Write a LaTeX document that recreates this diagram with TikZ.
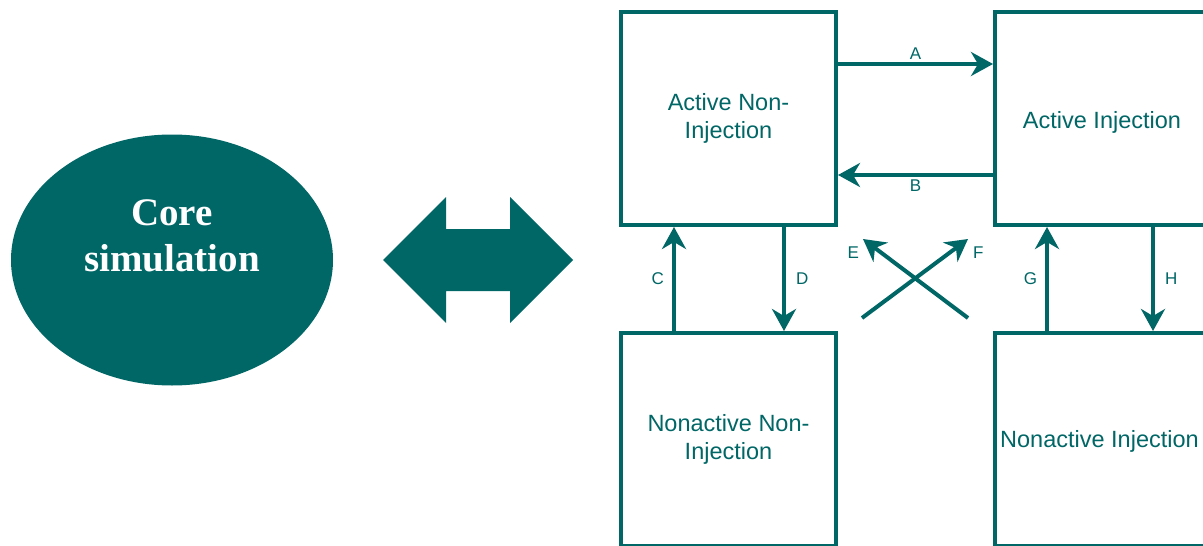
\documentclass[tikz,border=0pt]{standalone}
\usepackage{fontspec}
\setmainfont{Liberation Sans}
\newfontfamily\coreserif{Liberation Serif}
\usetikzlibrary{arrows.meta,shapes.geometric}
\definecolor{teal}{RGB}{0,102,102}
\tikzset{
  statebox/.style={draw=teal, line width=4pt, minimum width=215pt, minimum height=213pt,
    inner sep=0pt, align=center, text=teal, font=\fontsize{23.5}{28}\selectfont},
  flow/.style={draw=teal, line width=4pt, -{Stealth[length=22pt,width=24pt,inset=7pt]}},
  lbl/.style={text=teal, font=\fontsize{17}{20}\selectfont, inner sep=2pt},
}
\begin{document}
\begin{tikzpicture}[x=1pt,y=-1pt]
\useasboundingbox (0,0) rectangle (1203,546);
\clip (0,0) rectangle (1203,546);
\node[ellipse, fill=teal, minimum width=322pt, minimum height=251pt] (core) at (172,260) {};
\node[text=white, align=center, font=\coreserif\bfseries\fontsize{39}{46}\selectfont] (coret) at (172,236) {Core\\simulation};
\fill[teal] (383,260) -- (446,197) -- (446,229) -- (510,229) -- (510,197) -- (573,260)
  -- (510,323) -- (510,291) -- (446,291) -- (446,323) -- cycle;
\node[statebox] (ani) at (728.5,118.5) {Active Non-\\Injection};
\node[statebox] (ai) at (1102.5,118.5) {};
\node[text=teal, font=\fontsize{23.5}{28}\selectfont] (ait) at (1102,122) {Active Injection};
\node[statebox] (nni) at (728.5,439.5) {Nonactive Non-\\Injection};
\node[statebox] (ni) at (1102.5,439.5) {};
\node[text=teal, font=\fontsize{23.5}{28}\selectfont, anchor=west, inner sep=0pt] (nit) at (1000,441) {Nonactive Injection};
% A, B
\draw[flow] ([yshift=-54pt]ani.north east) -- node[lbl, above=1pt] {A} ([yshift=-54pt]ai.north west);
\draw[flow] ([yshift=52pt]ai.south west) -- node[lbl, below=1pt] {B} ([yshift=52pt]ani.south east);
% C, D
\draw[flow] ([xshift=55pt]nni.north west) -- node[lbl, left=6pt] {C} ([xshift=55pt]ani.south west);
\draw[flow] ([xshift=-54pt]ani.south east) -- node[lbl, right=8pt] {D} ([xshift=-54pt]nni.north east);
% G, H
\draw[flow] ([xshift=54pt]ni.north west) -- node[lbl, left=6pt] {G} ([xshift=54pt]ai.south west);
\draw[flow] ([xshift=160pt]ai.south west) -- node[lbl, right=8pt] {H} ([xshift=160pt]ni.north west);
% E, F
\coordinate (fs) at (862,318);
\coordinate (ft) at (968,239);
\coordinate (es) at (968,318);
\coordinate (et) at (863,239);
\draw[flow] (fs) -- (ft) node[lbl, right=1pt, pos=1, yshift=-14pt] {F};
\draw[flow] (es) -- (et) node[lbl, left=0pt, pos=1, yshift=-14pt] {E};
\end{tikzpicture}
\end{document}
